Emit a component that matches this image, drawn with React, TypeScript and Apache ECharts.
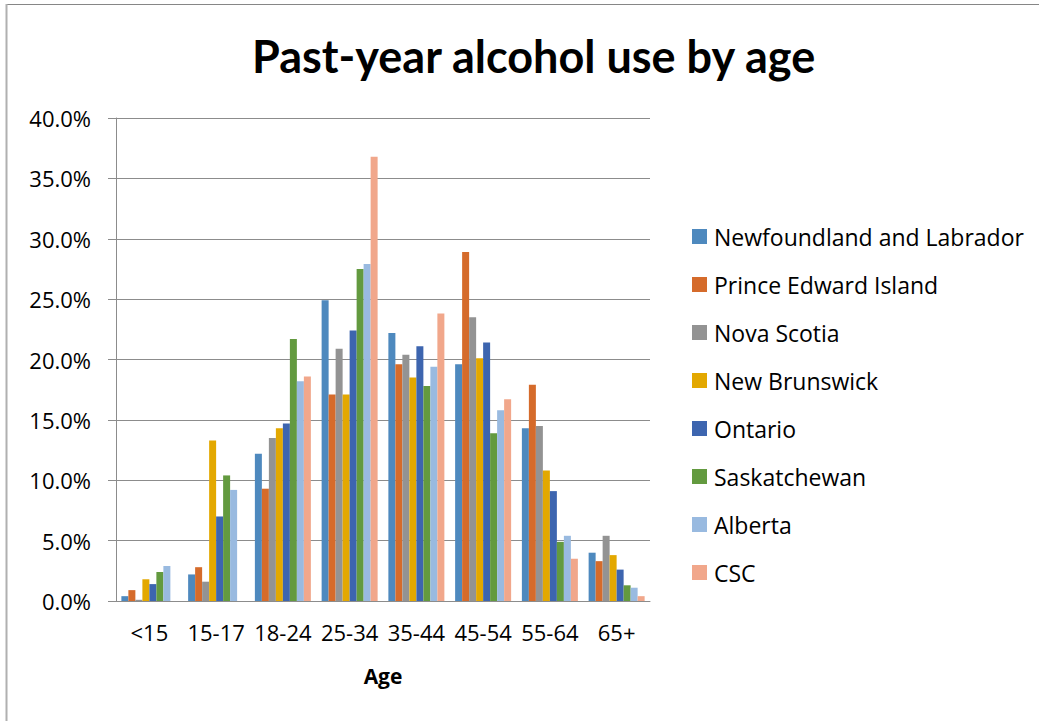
import React, { useEffect, useRef } from "react";
import * as echarts from "echarts";

const categories = ["<15", "15-17", "18-24", "25-34", "35-44", "45-54", "55-64", "65+"];
const yTicks = [0, 5, 10, 15, 20, 25, 30, 35, 40];

const seriesNames = [
  "Newfoundland and Labrador",
  "Prince Edward Island",
  "Nova Scotia",
  "New Brunswick",
  "Ontario",
  "Saskatchewan",
  "Alberta",
  "CSC",
];
const colors = ["#4E89BE", "#D56B2B", "#939393", "#E3A800", "#3D65AF", "#639A3F", "#99BAE0", "#F1A78B"];

const newfoundland = [0.4, 2.2, 12.2, 24.9, 22.2, 19.6, 14.3, 4.0];
const princeEdward = [0.9, 2.8, 9.3, 17.1, 19.6, 28.9, 17.9, 3.3];
const novaScotia = [0.1, 1.6, 13.5, 20.9, 20.4, 23.5, 14.5, 5.4];
const newBrunswick = [1.8, 13.3, 14.3, 17.1, 18.5, 20.1, 10.8, 3.8];
const ontario = [1.4, 7.0, 14.7, 22.4, 21.1, 21.4, 9.1, 2.6];
const saskatchewan = [2.4, 10.4, 21.7, 27.5, 17.8, 13.9, 4.9, 1.3];
const alberta = [2.9, 9.2, 18.2, 27.9, 19.4, 15.8, 5.4, 1.1];
const csc = [null, null, 18.6, 36.8, 23.8, 16.7, 3.5, 0.4];

const allData = [newfoundland, princeEdward, novaScotia, newBrunswick, ontario, saskatchewan, alberta, csc];

export default function App() {
  const ref = useRef<HTMLDivElement>(null);
  useEffect(() => {
    document.body.style.margin = "0";
    const chart = echarts.init(ref.current!, null, { renderer: "svg" });
    const font = "'Open Sans', 'Noto Sans', sans-serif";
    chart.setOption({
      animation: false,
      backgroundColor: "#ffffff",
      color: colors,
      title: {
        text: "Past-year alcohol use by age",
        left: 247,
        top: 28,
        textStyle: { fontFamily: "Lato, sans-serif", fontWeight: "bold", fontSize: 45, color: "#000" },
      },
      grid: { left: 116, right: 389, top: 118, bottom: 120, containLabel: false },
      legend: {
        orient: "vertical",
        left: 687,
        top: 220,
        itemWidth: 15,
        itemHeight: 15,
        itemGap: 25,
        icon: "rect",
        data: seriesNames,
        textStyle: { fontFamily: font, fontSize: 23, color: "#000", padding: [0, 0, 0, 2] },
      },
      xAxis: {
        type: "category",
        data: categories,
        name: "Age",
        nameLocation: "middle",
        nameGap: 64,
        nameTextStyle: { fontFamily: font, fontWeight: "bold", fontSize: 21, color: "#000" },
        axisLine: { lineStyle: { color: "#8c8c8c", width: 1 } },
        axisTick: { show: false },
        axisLabel: { fontFamily: font, fontSize: 22, color: "#000", margin: 20, interval: 0 },
      },
      yAxis: {
        type: "value",
        min: 0,
        max: 40,
        interval: 5,
        axisLine: { show: true, lineStyle: { color: "#8c8c8c" } },
        axisTick: { show: true, length: 8, lineStyle: { color: "#8c8c8c" } },
        splitLine: { lineStyle: { color: "#8c8c8c", width: 1 } },
        axisLabel: {
          fontFamily: font,
          fontSize: 22,
          color: "#000",
          margin: 25,
          formatter: (v: number) => (yTicks.includes(v) ? v.toFixed(1) + "%" : ""),
        },
      },
      series: seriesNames.map((name, i) => ({
        name,
        type: "bar",
        data: allData[i],
        barWidth: 7,
        barGap: "0%",
        itemStyle: { color: colors[i] },
      })),
      graphic: [
        { type: "line", shape: { x1: 6, y1: 4.5, x2: 1039, y2: 4.5 }, style: { stroke: "#868686", lineWidth: 1 } },
        { type: "line", shape: { x1: 6.5, y1: 4, x2: 6.5, y2: 721 }, style: { stroke: "#b0b0b0", lineWidth: 2 } },
      ],
    });
    return () => chart.dispose();
  }, []);
  return <div ref={ref} style={{ width: 1039, height: 721 }} />;
}
